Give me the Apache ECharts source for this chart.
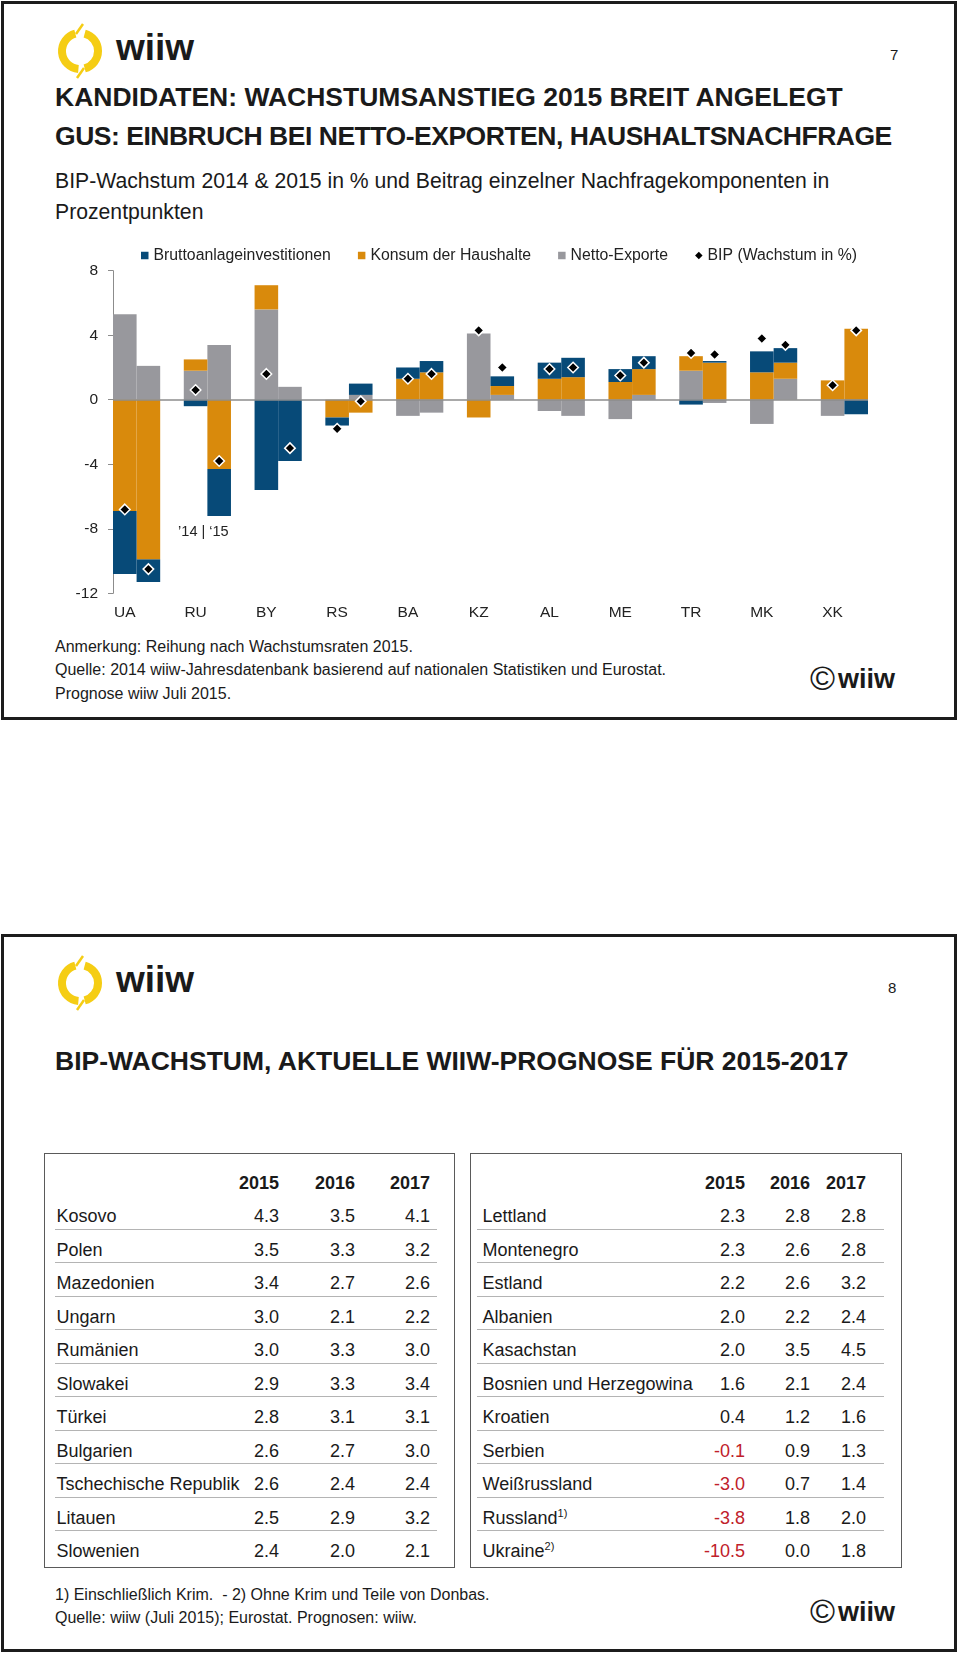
<!DOCTYPE html>
<html><head><meta charset="utf-8">
<script src="https://cdn.jsdelivr.net/npm/echarts@6/dist/echarts.min.js"></script>
<style>
body{margin:0;background:#fff;}
#page{position:relative;width:960px;height:1654px;font-family:'Liberation Sans',Arial,Helvetica,sans-serif;color:#1a1a1a;overflow:hidden;background:#fff}
.abs{position:absolute;white-space:nowrap;line-height:1}
.frame{position:absolute;box-sizing:border-box;border:3px solid #1c1c1c}
.ttl{font-size:26.5px;font-weight:bold;left:55px}
.sub{font-size:21.2px;left:55px}
.note{font-size:16px;left:55px}
.box{position:absolute;box-sizing:border-box;border:1.5px solid #5a5a5a}
.cell{position:absolute;white-space:nowrap;line-height:1;font-size:18px}
.num{text-align:right;width:70px}
.sep{position:absolute;height:0;border-top:1px solid #b4b4b4}
.neg{color:#c0202a}
sup{font-size:11px;vertical-align:0;position:relative;top:-7px}
.copy{font-size:34px;font-weight:normal;margin-right:3px;vertical-align:-2px}
.copyw{font-size:27px;font-weight:bold}
</style></head>
<body>
<div id="page">
  <div class="frame" style="left:1px;top:1px;width:956px;height:719px"></div>
  <div class="frame" style="left:1px;top:934px;width:956px;height:718px"></div>

  <!-- slide 1 header -->
  <svg class="abs" style="left:52px;top:21px" width="56" height="60" viewBox="0 0 56 60">
    <g fill="none" stroke="#f5cd14" stroke-linecap="butt">
      <path d="M 23.34 12.61 A 18 18 0 0 0 26.43 47.93" stroke-width="8"/>
      <path d="M 32.66 12.61 A 18 18 0 0 1 32.66 47.39" stroke-width="8"/>
      <path d="M 24 13 L 31 3" stroke-width="2.5"/>
      <path d="M 32 47 L 25 57" stroke-width="2.5"/>
    </g>
  </svg>
  <div class="abs" style="left:116px;top:29px;font-size:37px;font-weight:bold;color:#1a1a1a">wiiw</div>
  <div class="abs" style="left:890px;top:47px;font-size:15px">7</div>
  <div class="abs ttl" style="top:84px">KANDIDATEN: WACHSTUMSANSTIEG 2015 BREIT ANGELEGT</div>
  <div class="abs ttl" style="top:123px;letter-spacing:-0.48px">GUS: EINBRUCH BEI NETTO-EXPORTEN, HAUSHALTSNACHFRAGE</div>
  <div class="abs sub" style="top:169.5px">BIP-Wachstum 2014 &amp; 2015 in % und Beitrag einzelner Nachfragekomponenten in</div>
  <div class="abs sub" style="top:200.5px">Prozentpunkten</div>
  <div class="abs note" style="top:639px">Anmerkung: Reihung nach Wachstumsraten 2015.</div>
  <div class="abs note" style="top:662px">Quelle: 2014 wiiw-Jahresdatenbank basierend auf nationalen Statistiken und Eurostat.</div>
  <div class="abs note" style="top:686px">Prognose wiiw Juli 2015.</div>
  <div class="abs" style="left:810px;top:661px"><span class="copy">©</span><span class="copyw">wiiw</span></div>

  <div id="chart" style="position:absolute;left:0;top:0;width:960px;height:720px"></div>

  <!-- slide 2 -->
  <svg class="abs" style="left:52px;top:953px" width="56" height="60" viewBox="0 0 56 60">
    <g fill="none" stroke="#f5cd14" stroke-linecap="butt">
      <path d="M 23.34 12.61 A 18 18 0 0 0 26.43 47.93" stroke-width="8"/>
      <path d="M 32.66 12.61 A 18 18 0 0 1 32.66 47.39" stroke-width="8"/>
      <path d="M 24 13 L 31 3" stroke-width="2.5"/>
      <path d="M 32 47 L 25 57" stroke-width="2.5"/>
    </g>
  </svg>
  <div class="abs" style="left:116px;top:961px;font-size:37px;font-weight:bold">wiiw</div>
  <div class="abs" style="left:888px;top:980px;font-size:15px">8</div>
  <div class="abs ttl" style="top:1048px">BIP-WACHSTUM, AKTUELLE WIIW-PROGNOSE FÜR 2015-2017</div>

  <div id="tables"></div>

  <div class="abs note" style="top:1587px">1) Einschließlich Krim.&nbsp; - 2) Ohne Krim und Teile von Donbas.</div>
  <div class="abs note" style="top:1610px">Quelle: wiiw (Juli 2015); Eurostat. Prognosen: wiiw.</div>
  <div class="abs" style="left:810px;top:1594px"><span class="copy">©</span><span class="copyw">wiiw</span></div>
</div>

<script>
// ---------- chart data ----------
const countries = ['UA','RU','BY','RS','BA','KZ','AL','ME','TR','MK','XK'];
const inv14  = [-3.9, -0.4, -5.6, -0.5, 0.7,  0.0, 1.0, 0.8, -0.3, 1.3,  0.0];
const inv15  = [-1.4, -2.9, -3.8,  0.7, 0.7,  0.6, 1.2, 0.8,  0.1, 0.9, -0.9];
const cons14 = [-6.9,  0.7,  1.5, -1.1, 1.3, -1.1, 1.3, 1.1,  0.9, 1.7,  1.2];
const cons15 = [-9.9, -4.3,  0.0, -0.8, 1.7, 0.55, 1.4, 1.6,  2.3, 1.0,  4.4];
const nx14   = [ 5.3,  1.8,  5.6,  0.0, -1.0, 4.1, -0.7, -1.2, 1.8, -1.5, -1.0];
const nx15   = [ 2.1,  3.4,  0.8,  0.3, -0.8, 0.3, -1.0, 0.3, -0.2, 1.3,  0.0];
const gdp14  = [-6.8,  0.6,  1.6, -1.8, 1.3,  4.3, 1.9, 1.5,  2.9, 3.8,  0.9];
const gdp15  = [-10.5,-3.8, -3.0, -0.1, 1.6,  2.0, 2.0, 2.3,  2.8, 3.4,  4.3];
const yearMark = '\u201914 | \u201815';

// ---------- table data ----------
const years = ['2015','2016','2017'];
const leftNames = ['Kosovo','Polen','Mazedonien','Ungarn','Rumänien','Slowakei','Türkei','Bulgarien','Tschechische Republik','Litauen','Slowenien'];
const left2015 = [4.3,3.5,3.4,3.0,3.0,2.9,2.8,2.6,2.6,2.5,2.4];
const left2016 = [3.5,3.3,2.7,2.1,3.3,3.3,3.1,2.7,2.4,2.9,2.0];
const left2017 = [4.1,3.2,2.6,2.2,3.0,3.4,3.1,3.0,2.4,3.2,2.1];
const rightNames = ['Lettland','Montenegro','Estland','Albanien','Kasachstan','Bosnien und Herzegowina','Kroatien','Serbien','Weißrussland','Russland','Ukraine'];
const rightNotes = ['','','','','','','','','','1)','2)'];
const right2015 = [2.3,2.3,2.2,2.0,2.0,1.6,0.4,-0.1,-3.0,-3.8,-10.5];
const right2016 = [2.8,2.6,2.6,2.2,3.5,2.1,1.2,0.9,0.7,1.8,0.0];
const right2017 = [2.8,2.8,3.2,2.4,4.5,2.4,1.6,1.3,1.4,2.0,1.8];

// ---------- tables ----------
function buildTable(box, names, notes, cols, colRights, sepFrom, sepTo) {
  let h = '<div class="box" style="left:'+box.left+'px;top:'+box.top+'px;width:'+box.width+'px;height:'+box.height+'px"></div>';
  const hdrC = 1183, row0 = 1216, step = 33.5;
  years.forEach((y,j)=>{
    h += '<div class="cell num" style="font-weight:bold;left:'+(colRights[j]-70)+'px;top:'+(hdrC-9)+'px">'+y+'</div>';
  });
  names.forEach((n,i)=>{
    const c = row0 + step*i;
    const note = notes && notes[i] ? '<sup>'+notes[i]+'</sup>' : '';
    h += '<div class="cell" style="left:'+(box.left+12.5)+'px;top:'+(c-9)+'px">'+n+note+'</div>';
    cols.forEach((arr,j)=>{
      const v = arr[i];
      h += '<div class="cell num'+(v<0?' neg':'')+'" style="left:'+(colRights[j]-70)+'px;top:'+(c-9)+'px">'+v.toFixed(1)+'</div>';
    });
    if (i < names.length-1) {
      h += '<div class="sep" style="left:'+sepFrom+'px;width:'+(sepTo-sepFrom)+'px;top:'+(c+12.5)+'px"></div>';
    }
  });
  return h;
}
document.getElementById('tables').innerHTML =
  buildTable({left:44,top:1153,width:411,height:415}, leftNames, null, [left2015,left2016,left2017], [279,355,430], 55, 437) +
  buildTable({left:470,top:1153,width:432,height:415}, rightNames, rightNotes, [right2015,right2016,right2017], [745,810,866], 477, 884);

// ---------- chart ----------
const cats = [];
countries.forEach((c,i)=>{ cats.push(c, c+'_15'); if (i < countries.length-1) cats.push(c+'_gap'); });
function slots(a, b) {
  const o = [];
  a.forEach((v,i)=>{ o.push(a[i], b[i]); if (i < a.length-1) o.push(null); });
  return o;
}
const COL_INV = '#074a78', COL_CONS = '#d98a0c', COL_NX = '#98989d';
const chart = echarts.init(document.getElementById('chart'), null, {renderer:'canvas'});
const FONT = "'Liberation Sans', Arial, Helvetica, sans-serif";
chart.setOption({
  animation:false,
  textStyle:{fontFamily:FONT, color:'#222'},
  legend:{
    left:136, top:242.5, itemWidth:7.5, itemHeight:7.5, itemGap:27, selectedMode:false,
    textStyle:{fontSize:15.8, color:'#222', fontFamily:FONT},
    data:[
      {name:'Bruttoanlageinvestitionen', icon:'rect'},
      {name:'Konsum der Haushalte', icon:'rect'},
      {name:'Netto-Exporte', icon:'rect'},
      {name:'BIP (Wachstum in %)', icon:'diamond', itemStyle:{borderWidth:0}}
    ]
  },
  grid:{left:113, right:92, top:270.7, bottom:126.7, outerBoundsMode:'none'},
  xAxis:{
    type:'category', data:cats,
    axisLine:{show:false}, axisTick:{show:false}, splitLine:{show:false},
    axisLabel:{interval:0, margin:11, fontSize:15.5, color:'#222', fontFamily:FONT,
      formatter:(v)=> countries.includes(v) ? v : ''}
  },
  yAxis:{
    type:'value', min:-12, max:8, interval:4,
    axisLine:{show:true, lineStyle:{color:'#8c8c8c', width:1}},
    axisTick:{show:true, length:5, lineStyle:{color:'#8c8c8c'}},
    splitLine:{show:false},
    axisLabel:{margin:15, fontSize:15.5, color:'#222', fontFamily:FONT}
  },
  series:[
    {name:'Netto-Exporte', type:'bar', stack:'s', barWidth:'100%', barCategoryGap:'0%',
     data:slots(nx14, nx15), itemStyle:{color:COL_NX},
     markLine:{silent:true, symbol:['none','none'], label:{show:false},
       lineStyle:{color:'#8c8c8c', width:1.5, type:'solid'}, data:[{yAxis:0}], z:5}},
    {name:'Konsum der Haushalte', type:'bar', stack:'s', barWidth:'100%',
     data:slots(cons14, cons15), itemStyle:{color:COL_CONS}},
    {name:'Bruttoanlageinvestitionen', type:'bar', stack:'s', barWidth:'100%',
     data:slots(inv14, inv15), itemStyle:{color:COL_INV}},
    {name:'BIP (Wachstum in %)', type:'scatter', symbol:'diamond', symbolSize:10.5, z:10,
     data:slots(gdp14, gdp15),
     itemStyle:{color:'#000', borderColor:'#fff', borderWidth:1.5, opacity:1}}
  ]
});
// annotation "'14 | '15" positioned through the axes
const ruIdx = countries.indexOf('RU') * 3;
const p1 = chart.convertToPixel({gridIndex:0}, [ruIdx, -8.2]);
const p2 = chart.convertToPixel({gridIndex:0}, [ruIdx+1, -8.2]);
chart.setOption({graphic:[{type:'text', x:(p1[0]+p2[0])/2 - 4, y:p1[1],
  style:{text:yearMark, fontSize:14.5, fontFamily:FONT, fill:'#222', align:'center', verticalAlign:'middle'}}]});
</script>
</body></html>
